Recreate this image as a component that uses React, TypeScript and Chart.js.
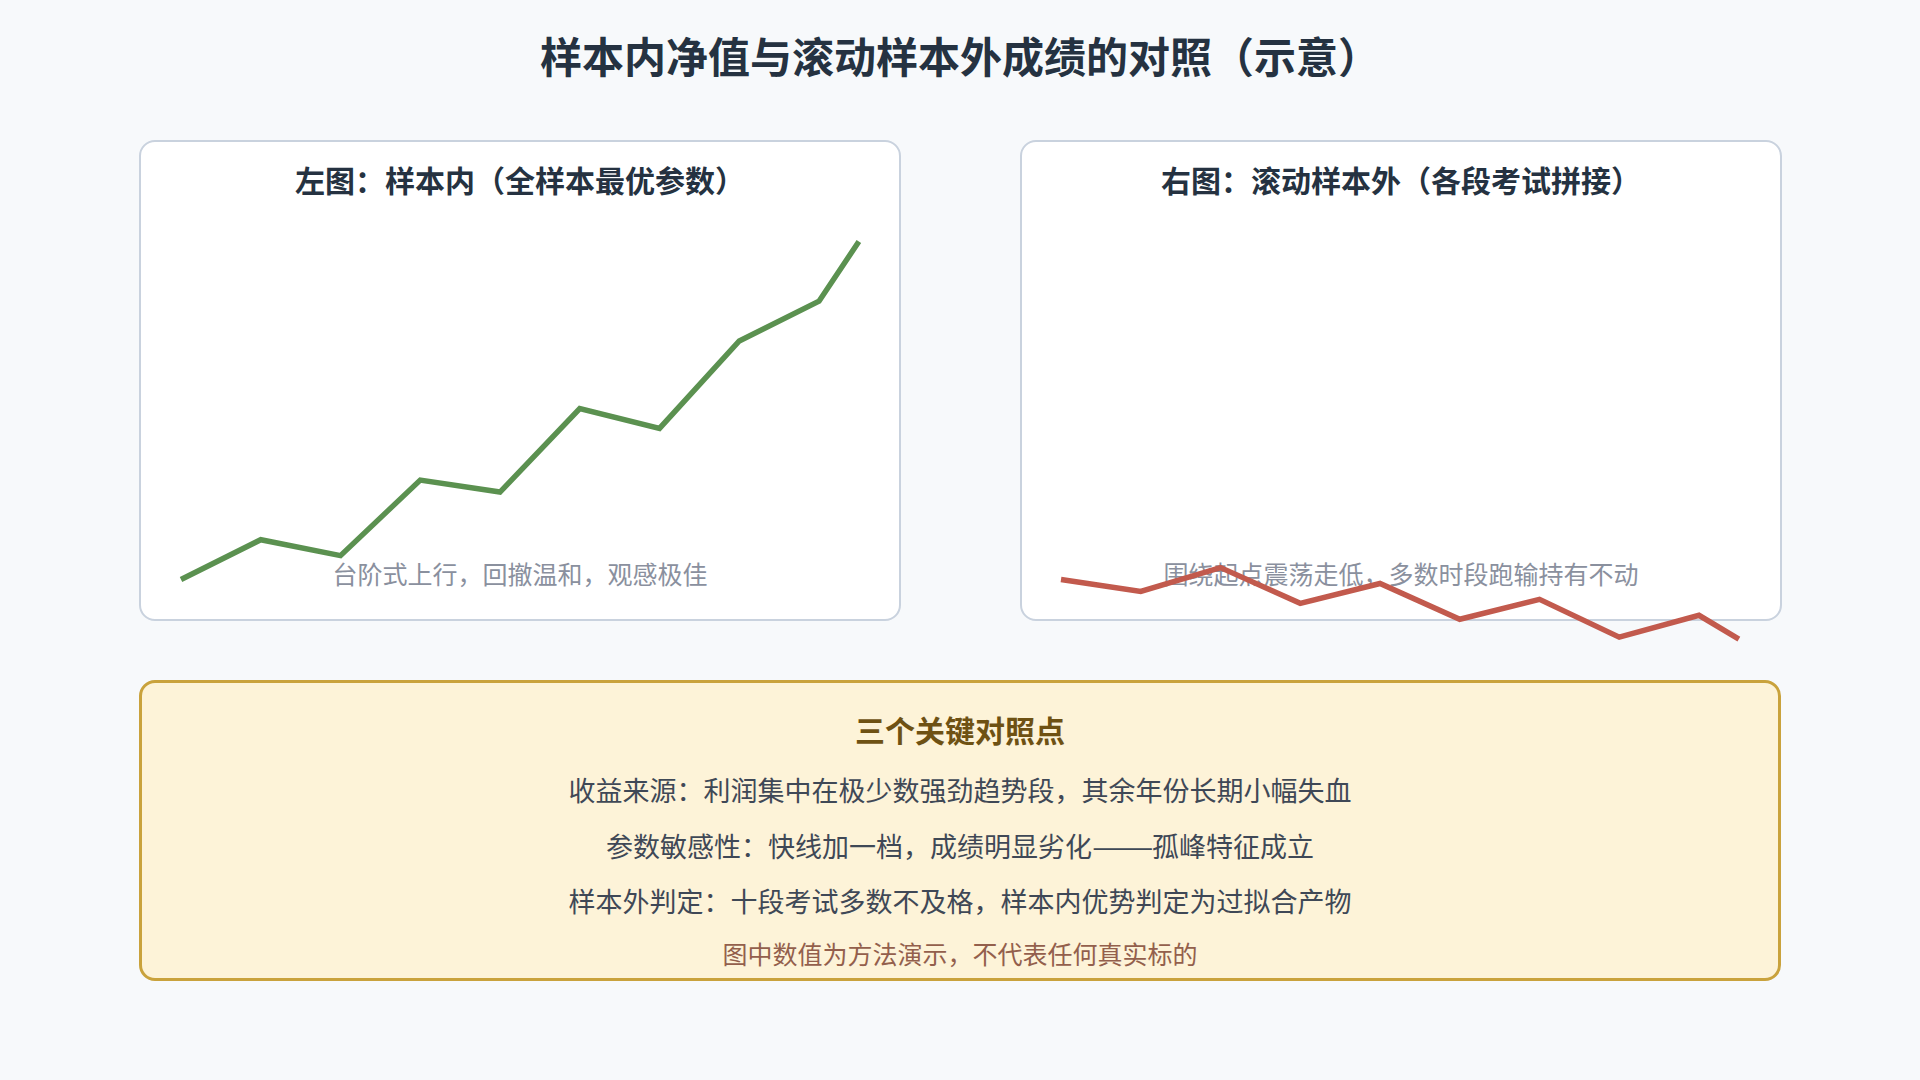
import React, { useEffect, useRef } from "react";
import { Chart, registerables } from "chart.js";

Chart.register(...registerables);

// ---------- data ----------
const TITLE = "样本内净值与滚动样本外成绩的对照（示意）";
const LEFT_TITLE = "左图：样本内（全样本最优参数）";
const RIGHT_TITLE = "右图：滚动样本外（各段考试拼接）";
const LEFT_CAPTION = "台阶式上行，回撤温和，观感极佳";
const RIGHT_CAPTION = "围绕起点震荡走低，多数时段跑输持有不动";
const BOX_TITLE = "三个关键对照点";
const BOX_LINES = [
  "收益来源：利润集中在极少数强劲趋势段，其余年份长期小幅失血",
  "参数敏感性：快线加一档，成绩明显劣化——孤峰特征成立",
  "样本外判定：十段考试多数不及格，样本内优势判定为过拟合产物",
];
const BOX_NOTE = "图中数值为方法演示，不代表任何真实标的";

const STEPS = [0, 1, 2, 3, 4, 5, 6, 7, 8, 8.5];
const IN_SAMPLE = [1.0, 1.1, 1.06, 1.25, 1.22, 1.43, 1.38, 1.6, 1.7, 1.85];
const OUT_SAMPLE = [1.0, 0.97, 1.03, 0.94, 0.99, 0.9, 0.95, 0.855, 0.91, 0.85];

// ---------- layout / style ----------
const W = 1920;
const H = 1080;
const FONT = "'Noto Sans CJK SC', 'Noto Sans', sans-serif";
const STEP_PX = 79.75;
const LEFT_ORIGIN = 181;
const RIGHT_ORIGIN = 1061;
const BASE_Y = 579.5;
const PX_PER_UNIT = 397.6;
const DASH = "——";

const abs = (o: React.CSSProperties): React.CSSProperties => ({ position: "absolute", ...o });

function renderWithDash(text: string) {
  const parts = text.split(DASH);
  if (parts.length === 1) return text;
  const out: React.ReactNode[] = [];
  parts.forEach((p, i) => {
    if (i > 0) {
      out.push(
        <span
          key={"d" + i}
          style={{ display: "inline-block", width: 60, overflow: "visible", whiteSpace: "nowrap", textAlign: "left" }}
        >
          <span style={{ display: "inline-block", transform: "scaleX(1.36)", transformOrigin: "left center" }}>{DASH}</span>
        </span>
      );
    }
    out.push(<span key={"p" + i}>{p}</span>);
  });
  return out;
}

function Text(props: { text: string; top: number; left: number; width: number; size: number; lh: number; color: string; bold?: boolean }) {
  return (
    <div
      style={abs({
        top: props.top,
        left: props.left,
        width: props.width,
        textAlign: "center",
        fontFamily: FONT,
        fontSize: props.size,
        lineHeight: props.lh + "px",
        fontWeight: props.bold ? 700 : 400,
        color: props.color,
        whiteSpace: "nowrap",
      })}
    >
      {renderWithDash(props.text)}
    </div>
  );
}

export default function App() {
  const ref = useRef<HTMLCanvasElement | null>(null);

  useEffect(() => {
    if (!ref.current) return;
    const chart = new Chart(ref.current, {
      type: "line",
      data: {
        datasets: [
          {
            label: "样本内",
            data: STEPS.map((x, i) => ({ x, y: IN_SAMPLE[i] })),
            xAxisID: "xL",
            yAxisID: "y",
            borderColor: "#5b9150",
            borderWidth: 5.5,
            pointRadius: 0,
            tension: 0,
            fill: false,
            clip: false as any,
          },
          {
            label: "样本外",
            data: STEPS.map((x, i) => ({ x, y: OUT_SAMPLE[i] })),
            xAxisID: "xR",
            yAxisID: "y",
            borderColor: "#c25a4d",
            borderWidth: 5.5,
            pointRadius: 0,
            tension: 0,
            fill: false,
            clip: false as any,
          },
        ],
      },
      options: {
        responsive: false,
        animation: false,
        devicePixelRatio: 1,
        layout: { padding: 0, autoPadding: false },
        plugins: { legend: { display: false }, tooltip: { enabled: false }, title: { display: false } },
        events: [],
        scales: {
          xL: {
            type: "linear",
            display: false,
            min: -LEFT_ORIGIN / STEP_PX,
            max: (W - LEFT_ORIGIN) / STEP_PX,
          },
          xR: {
            type: "linear",
            display: false,
            min: -RIGHT_ORIGIN / STEP_PX,
            max: (W - RIGHT_ORIGIN) / STEP_PX,
          },
          y: {
            type: "linear",
            display: false,
            min: 1 - (H - BASE_Y) / PX_PER_UNIT,
            max: 1 + BASE_Y / PX_PER_UNIT,
          },
        },
      },
    });
    return () => chart.destroy();
  }, []);

  const card = (left: number): React.CSSProperties =>
    abs({
      left,
      top: 140,
      width: 762,
      height: 481,
      boxSizing: "border-box",
      background: "#ffffff",
      border: "2.5px solid #c9d2de",
      borderRadius: 16,
    });

  return (
    <div style={{ position: "fixed", left: 0, top: 0, width: W, height: H, background: "#f7f9fb", overflow: "hidden" }}>
      <Text text={TITLE} top={25} left={0} width={W} size={42} lh={60} color="#253241" bold />

      <div style={card(139)} />
      <div style={card(1020)} />
      <Text text={LEFT_TITLE} top={159} left={139} width={762} size={30} lh={40} color="#253241" bold />
      <Text text={RIGHT_TITLE} top={159} left={1020} width={762} size={30} lh={40} color="#253241" bold />
      <Text text={LEFT_CAPTION} top={556} left={139} width={762} size={25} lh={34} color="#8a909e" />
      <Text text={RIGHT_CAPTION} top={556} left={1020} width={762} size={25} lh={34} color="#8a909e" />

      <div
        style={abs({
          left: 139,
          top: 680,
          width: 1642,
          height: 301,
          boxSizing: "border-box",
          background: "#fdf3d8",
          border: "3px solid #c9a23c",
          borderRadius: 16,
        })}
      />
      <Text text={BOX_TITLE} top={709} left={139} width={1642} size={30} lh={40} color="#6e5113" bold />
      {BOX_LINES.map((t, i) => (
        <Text key={i} text={t} top={770 + i * 55.7} left={139} width={1642} size={27} lh={40} color="#3f4856" />
      ))}
      <Text text={BOX_NOTE} top={936} left={139} width={1642} size={25} lh={34} color="#935f4c" />

      <canvas
        ref={ref}
        width={W}
        height={H}
        style={{ position: "absolute", left: 0, top: 0, width: W, height: H, pointerEvents: "none" }}
      />
    </div>
  );
}
